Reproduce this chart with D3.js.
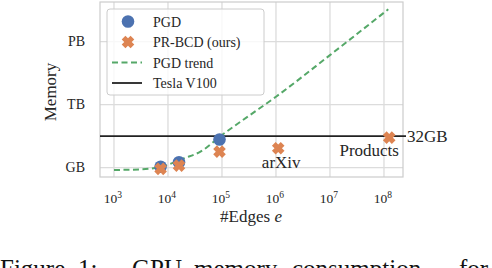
<!DOCTYPE html>
<html>
<head>
<meta charset="utf-8">
<script src="https://cdn.jsdelivr.net/npm/d3@7"></script>
<style>
  body { margin: 0; background: #fff; }
  svg { display: block; }
  text { font-family: "Liberation Serif", "Times New Roman", serif; }
</style>
</head>
<body>
<svg id="chart" width="492" height="268"></svg>
<script>
'use strict';

// values
var pgdEdges = [7.3e3, 1.6e4, 9.0e4];
var pgdMemory = [1.1e9, 1.8e9, 2.2e10];

var prbcdEdges = [7.3e3, 1.6e4, 9.0e4, 1.1e6, 1.25e8];
var prbcdMemory = [0.88e9, 1.25e9, 5.8e9, 8.4e9, 2.7e10];

var trendEdges = [1e3, 3e3, 7e3, 2e4, 4e4, 1e5, 3e5, 1e6, 1e7, 1.2e8];
var trendMemory = [7.8e8, 8.3e8, 1.05e9, 2.8e9, 5.8e9, 3.6e10, 2.7e11, 2.4e12, 2.3e14, 3.5e16];

var gpuLimit = 32e9;

var yTickValues = [1e9, 1e12, 1e15];
var yTickLabels = ['GB', 'TB', 'PB'];
var xTickExponents = [3, 4, 5, 6, 7, 8];

var annotations = [
	{ name: 'arXiv', idx: 3, dx: 3, dy: 20 },
	{ name: 'Products', idx: 4, dx: -20, dy: 18 }
];

var legendItems = ['PGD', 'PR-BCD (ours)', 'PGD trend', 'Tesla V100'];

var colors = { pgd: '#4c72b0', prbcd: '#dd8452', trend: '#55a868', gpu: '#222222', text: '#262626', grid: '#dcdcdc', spine: '#cccccc' };

var svg = d3.select('#chart');
var margin = { top: 2, left: 100 };
var width = 303, height = 175;

var x = d3.scaleLog().domain([551, 2.25e8]).range([0, width]);
var y = d3.scaleLog().domain([3.6e8, 7.8e16]).range([height, 0]);

// filled "X" marker like matplotlib's, size = full width in px
var xMarker = {
	draw: function(context, size) {
		var L = size / 2 / Math.SQRT2 * 1.42, w = size * 0.21;
		var pts = [[w, w], [L, w], [L, -w], [w, -w], [w, -L], [-w, -L], [-w, -w], [-L, -w], [-L, w], [-w, w], [-w, L], [w, L]];
		var c = Math.SQRT1_2;
		pts.forEach(function(p, i) {
			var px = (p[0] - p[1]) * c, py = (p[0] + p[1]) * c;
			if (i === 0) context.moveTo(px, py); else context.lineTo(px, py);
		});
		context.closePath();
	}
};
var cross = d3.symbol().type(xMarker).size(12.5);

var g = svg.append('g').attr('transform', 'translate(' + margin.left + ',' + margin.top + ')');

// grid
g.append('g').selectAll('line').data(xTickExponents).enter().append('line')
	.attr('x1', function(d) { return x(Math.pow(10, d)); })
	.attr('x2', function(d) { return x(Math.pow(10, d)); })
	.attr('y1', 0).attr('y2', height)
	.attr('stroke', colors.grid).attr('stroke-width', 1.3);

g.append('g').selectAll('line').data(yTickValues).enter().append('line')
	.attr('y1', function(d) { return y(d); })
	.attr('y2', function(d) { return y(d); })
	.attr('x1', 0).attr('x2', width)
	.attr('stroke', colors.grid).attr('stroke-width', 1.3);

// border
g.append('rect')
	.attr('width', width).attr('height', height)
	.attr('fill', 'none').attr('stroke', colors.spine).attr('stroke-width', 1.2);

// y tick labels
g.append('g').selectAll('text').data(yTickValues).enter().append('text')
	.attr('x', -15).attr('y', function(d) { return y(d) + 4.5; })
	.attr('text-anchor', 'end').attr('font-size', 14).attr('fill', colors.text)
	.text(function(d, i) { return yTickLabels[i]; });

// x tick labels 10^n
var xt = g.append('g').selectAll('text').data(xTickExponents).enter().append('text')
	.attr('x', function(d) { return x(Math.pow(10, d)) - 1; })
	.attr('y', height + 26)
	.attr('text-anchor', 'middle').attr('font-size', 13.5).attr('fill', colors.text);
xt.append('tspan').text('10');
xt.append('tspan').attr('dy', -5.5).attr('font-size', 9.5).text(function(d) { return d; });

// axis labels
svg.append('text')
	.attr('transform', 'translate(56,' + (margin.top + 90) + ') rotate(-90)')
	.attr('text-anchor', 'middle').attr('font-size', 17).attr('fill', colors.text)
	.text('Memory');

var xl = svg.append('text')
	.attr('x', margin.left + 151).attr('y', 222)
	.attr('text-anchor', 'middle').attr('font-size', 17).attr('fill', colors.text);
xl.append('tspan').text('#Edges ');
xl.append('tspan').attr('font-style', 'italic').text('e');

// GPU memory limit
g.append('line')
	.attr('x1', 0).attr('x2', width + 3)
	.attr('y1', y(gpuLimit)).attr('y2', y(gpuLimit))
	.attr('stroke', colors.gpu).attr('stroke-width', 1.8);

g.append('text')
	.attr('x', width + 4).attr('y', y(gpuLimit) + 6)
	.attr('font-size', 17).attr('fill', colors.text)
	.text('32GB');

// PGD trend
var line = d3.line()
	.x(function(d) { return x(d[0]); })
	.y(function(d) { return y(d[1]); })
	.curve(d3.curveMonotoneX);

g.append('path')
	.datum(d3.zip(trendEdges, trendMemory))
	.attr('fill', 'none')
	.attr('stroke', colors.trend)
	.attr('stroke-width', 2)
	.attr('stroke-dasharray', '6,3.5')
	.attr('d', line);

// PGD points
g.append('g').selectAll('circle').data(d3.zip(pgdEdges, pgdMemory)).enter().append('circle')
	.attr('cx', function(d) { return x(d[0]); })
	.attr('cy', function(d) { return y(d[1]); })
	.attr('r', 6.3)
	.attr('fill', colors.pgd);

// PR-BCD points
g.append('g').selectAll('path').data(d3.zip(prbcdEdges, prbcdMemory)).enter().append('path')
	.attr('d', cross)
	.attr('transform', function(d) { return 'translate(' + x(d[0]) + ',' + y(d[1]) + ')'; })
	.attr('fill', colors.prbcd);

// dataset names
g.append('g').selectAll('text').data(annotations).enter().append('text')
	.attr('x', function(d) { return x(prbcdEdges[d.idx]) + d.dx; })
	.attr('y', function(d) { return y(prbcdMemory[d.idx]) + d.dy; })
	.attr('text-anchor', 'middle').attr('font-size', 17).attr('fill', colors.text)
	.text(function(d) { return d.name; });

// legend
var lg = g.append('g').attr('transform', 'translate(7,7)');
lg.append('rect')
	.attr('width', 157).attr('height', 86).attr('rx', 3)
	.attr('fill', 'rgba(255,255,255,0.8)')
	.attr('stroke', colors.spine).attr('stroke-width', 1);

var rows = lg.selectAll('g.row').data(legendItems).enter().append('g')
	.attr('class', 'row')
	.attr('transform', function(d, i) { return 'translate(0,' + (12.5 + i * 20.5) + ')'; });

rows.append('text')
	.attr('x', 46).attr('y', 5)
	.attr('font-size', 14).attr('fill', colors.text)
	.text(function(d) { return d; });

lg.append('circle').attr('cx', 21).attr('cy', 12.5).attr('r', 6.3).attr('fill', colors.pgd);
lg.append('path').attr('d', cross)
	.attr('transform', 'translate(21,' + (12.5 + 20.5) + ')')
	.attr('fill', colors.prbcd);
lg.append('line')
	.attr('x1', 5).attr('x2', 35)
	.attr('y1', 12.5 + 41).attr('y2', 12.5 + 41)
	.attr('stroke', colors.trend).attr('stroke-width', 2).attr('stroke-dasharray', '6,3.5');
lg.append('line')
	.attr('x1', 5).attr('x2', 35)
	.attr('y1', 12.5 + 61.5).attr('y2', 12.5 + 61.5)
	.attr('stroke', colors.gpu).attr('stroke-width', 1.8);

// caption (cut off at the bottom of the picture, as in the source)
var captionWords = ['Figure', '1:', 'GPU', 'memory', 'consumption', 'for'];
var captionX = [0, 78, 132, 194, 292, 459];
svg.append('g').selectAll('text').data(captionWords).enter().append('text')
	.attr('x', function(d, i) { return captionX[i]; })
	.attr('y', 277)
	.attr('font-size', 25).attr('fill', '#111')
	.text(function(d) { return d; });
</script>
</body>
</html>
